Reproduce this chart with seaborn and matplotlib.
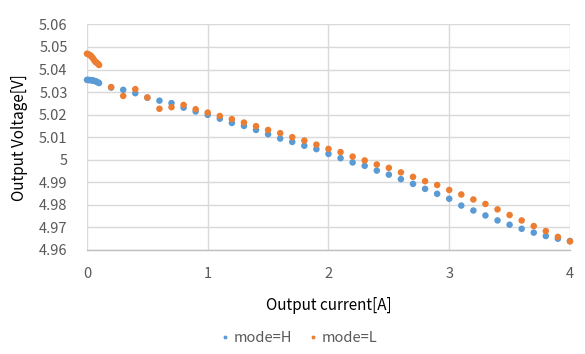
import pandas as pd
import seaborn as sns
import matplotlib.pyplot as plt
from matplotlib.ticker import FuncFormatter

# 出力電流 [A]
current = [0.00, 0.01, 0.02, 0.03, 0.04, 0.05, 0.06, 0.07, 0.08, 0.09, 0.10,
           0.2, 0.3, 0.4, 0.5, 0.6, 0.7, 0.8, 0.9, 1.0,
           1.1, 1.2, 1.3, 1.4, 1.5, 1.6, 1.7, 1.8, 1.9, 2.0,
           2.1, 2.2, 2.3, 2.4, 2.5, 2.6, 2.7, 2.8, 2.9, 3.0,
           3.1, 3.2, 3.3, 3.4, 3.5, 3.6, 3.7, 3.8, 3.9, 4.0]

# mode=H の出力電圧 [V]
volt_h = [5.0354, 5.0354, 5.0353, 5.0353, 5.0352, 5.0351, 5.0350, 5.0348, 5.0346, 5.0343, 5.0340,
          5.0320, 5.0310, 5.0295, 5.0275, 5.0262, 5.0251, 5.0231, 5.0214, 5.0199,
          5.0182, 5.0163, 5.0150, 5.0132, 5.0113, 5.0094, 5.0079, 5.0062, 5.0047, 5.0026,
          5.0007, 4.9988, 4.9973, 4.9952, 4.9934, 4.9914, 4.9893, 4.9871, 4.9849, 4.9827,
          4.9797, 4.9775, 4.9753, 4.9731, 4.9712, 4.9694, 4.9677, 4.9662, 4.9650, 4.9640]

# mode=L の出力電圧 [V]
volt_l = [5.0470, 5.0468, 5.0465, 5.0461, 5.0456, 5.0449, 5.0441, 5.0434, 5.0430, 5.0426, 5.0420,
          5.0322, 5.0283, 5.0313, 5.0276, 5.0226, 5.0233, 5.0243, 5.0224, 5.0209,
          5.0194, 5.0180, 5.0165, 5.0149, 5.0132, 5.0118, 5.0100, 5.0085, 5.0067, 5.0048,
          5.0034, 5.0014, 4.9997, 4.9979, 4.9964, 4.9944, 4.9924, 4.9905, 4.9888, 4.9866,
          4.9846, 4.9824, 4.9804, 4.9780, 4.9755, 4.9731, 4.9706, 4.9684, 4.9658, 4.9638]

modes = ['mode=H', 'mode=L']
colors = ['#5B9BD5', '#ED7D31']

df = pd.concat([
    pd.DataFrame({'current': current, 'voltage': volt_h, 'mode': modes[0]}),
    pd.DataFrame({'current': current, 'voltage': volt_l, 'mode': modes[1]}),
])

sns.set_style('white')
plt.rcParams['font.family'] = ['Noto Sans CJK JP', 'DejaVu Sans']

fig = plt.figure(figsize=(5.85, 3.54), dpi=100)
ax = fig.add_axes([0.1487, 0.2938, 0.8256, 0.6373])

sns.scatterplot(data=df, x='current', y='voltage', hue='mode', palette=colors,
                s=22, linewidth=0, ax=ax, zorder=3, clip_on=False)

ax.set_xlim(0, 4)
ax.set_ylim(4.96, 5.06)
ax.set_xticks([0, 1, 2, 3, 4])
ax.set_yticks([4.96, 4.97, 4.98, 4.99, 5.00, 5.01, 5.02, 5.03, 5.04, 5.05, 5.06])
ax.yaxis.set_major_formatter(FuncFormatter(lambda v, p: f'{v:.2f}'.rstrip('0').rstrip('.')))
ax.grid(True, color='#D9D9D9', linewidth=1)
ax.set_axisbelow(True)
for side in ['top', 'right', 'left']:
    ax.spines[side].set_visible(False)
ax.spines['bottom'].set_color('#BFBFBF')
ax.spines['bottom'].set_linewidth(1)
ax.tick_params(axis='both', length=0, labelsize=10.5, labelcolor='#595959')
ax.tick_params(axis='x', pad=12)
ax.tick_params(axis='y', pad=14)

ax.set_xlabel('Output current[A]', fontsize=11, color='#000000', labelpad=12)
ax.set_ylabel('Output Voltage[V]', fontsize=11, color='#000000', labelpad=8)

# 上端で切れているタイトル
fig.text(0.585, 1.0 + 3.5 / 354, '出力電圧 - 負荷電流', ha='center', va='baseline',
         fontsize=15, color='#595959')

leg = ax.legend(loc='center', bbox_to_anchor=(0.437, -0.39),
                ncol=2, frameon=False, fontsize=10.5, handletextpad=0.2,
                handlelength=0.8, columnspacing=1.0, markerscale=0.6)
for t in leg.get_texts():
    t.set_color('#595959')

fig.savefig('out.png', dpi=100)
